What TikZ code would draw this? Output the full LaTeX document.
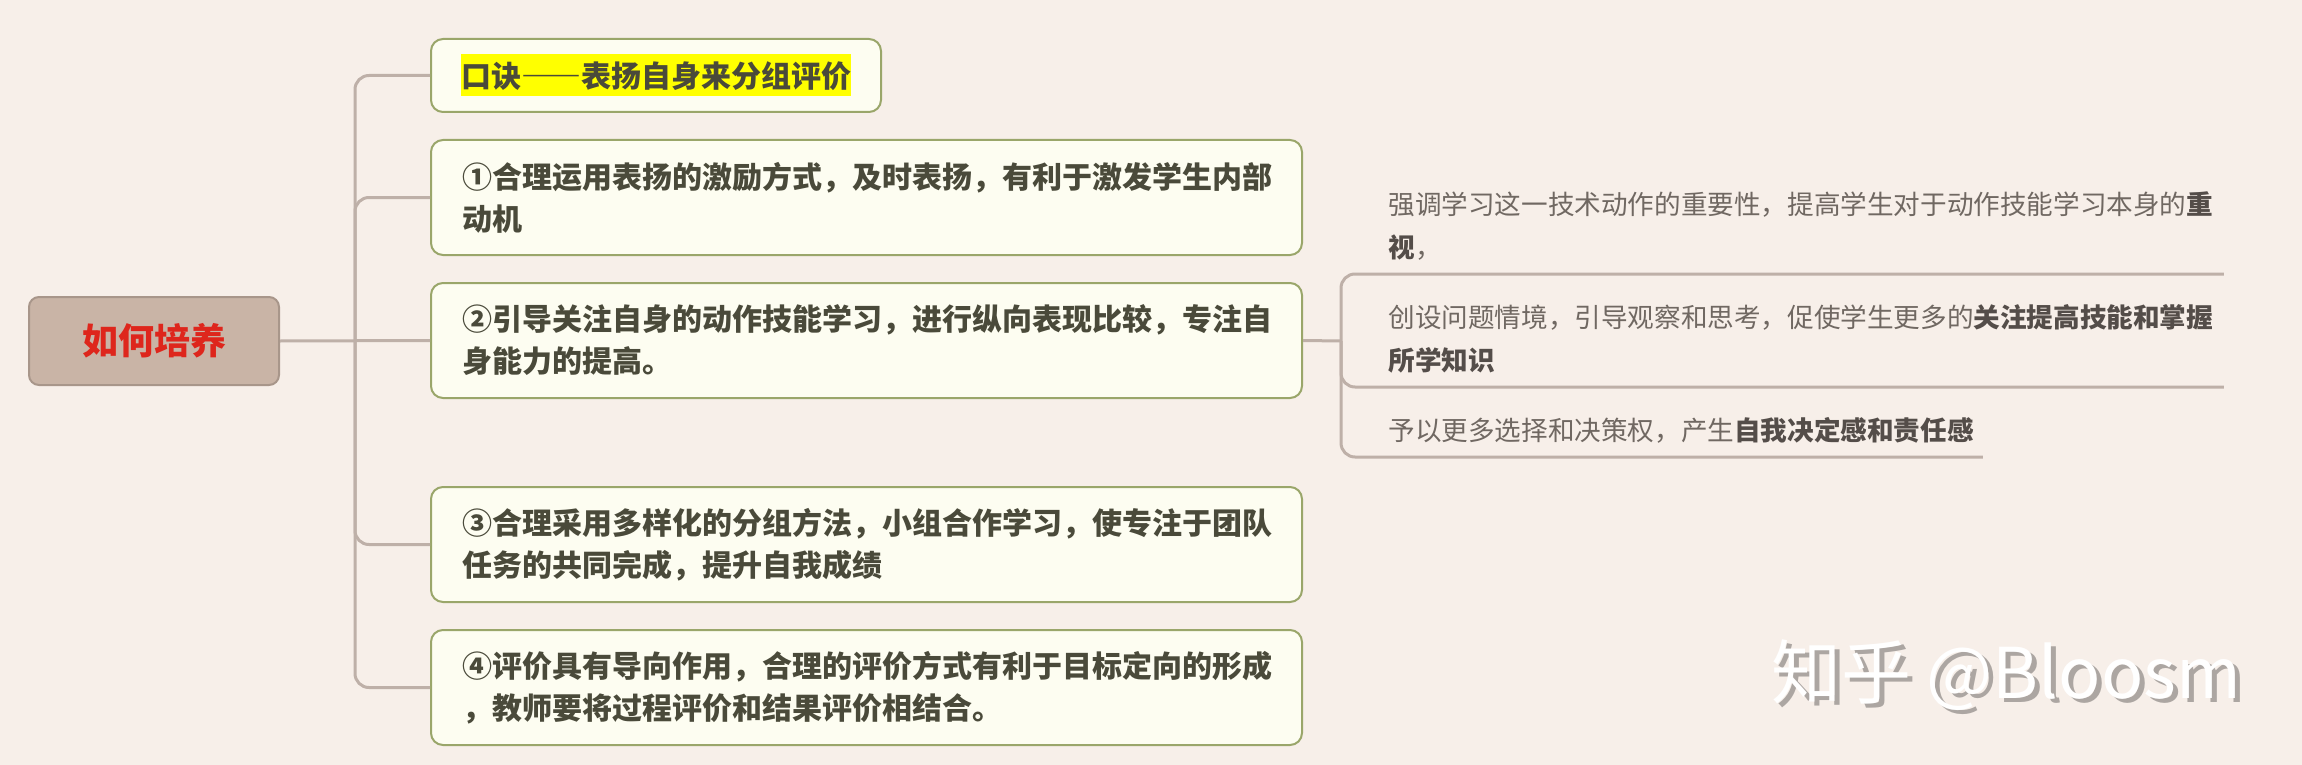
\documentclass[tikz,border=0pt]{standalone}
\usepackage{fontspec}
\setmainfont{Noto Sans CJK SC}
\definecolor{bgpaper}{RGB}{247,239,233}
\definecolor{linkgray}{RGB}{190,176,168}
\definecolor{rootfill}{RGB}{201,180,166}
\definecolor{rootedge}{RGB}{168,150,138}
\definecolor{rootred}{RGB}{222,38,28}
\definecolor{topicfill}{RGB}{253,253,241}
\definecolor{topicedge}{RGB}{154,166,106}
\definecolor{topictext}{RGB}{74,74,58}
\definecolor{subtext}{RGB}{112,104,98}
\definecolor{subdark}{RGB}{84,77,73}
\definecolor{hlyellow}{RGB}{255,255,0}
\definecolor{wmshadow}{RGB}{172,166,162}
\setlength{\fboxsep}{0pt}
\newcommand{\subbold}[1]{{\bfseries\color{subdark}#1}}

\begin{document}
\begin{tikzpicture}[x=0.5pt,y=-0.5pt,
    link/.style={draw=linkgray, line width=1.5pt, rounded corners=7pt},
    rootbox/.style={draw=rootedge, fill=rootfill, line width=1pt, rounded corners=5pt,
      minimum width=125pt, minimum height=44pt, text=rootred,
      font=\fontsize{18pt}{22pt}\selectfont\bfseries},
    topic/.style={draw=topicedge, fill=topicfill, line width=1pt, rounded corners=6pt,
      anchor=west, align=left, text=topictext, font=\fontsize{15pt}{21pt}\selectfont\bfseries},
    longtopic/.style={topic, text width=404.5pt, inner xsep=15.5pt, minimum height=57.5pt},
    subitem/.style={anchor=south west, inner xsep=0pt, inner ysep=1.5pt, align=left,
      text=subtext, font=\fontsize{13.3pt}{21.5pt}\selectfont, execute at end node=\strut}]

      \useasboundingbox (0,0) rectangle (2302,765);
      \fill[bgpaper] (0,0) rectangle (2302,765);

      % Root
      \node[rootbox] (root) at (154,341) {如何培养};
      \coordinate (trunk) at (355,341);

      % Topics
      \node[topic, minimum width=225pt, minimum height=36.5pt] (rhyme) at (430,75.5)
        {\colorbox{hlyellow}{\rule[-4.5pt]{0pt}{21pt}口诀{\addfontfeature{RawFeature=+fwid}——}表扬自身来分组评价}};
      \node[longtopic] (praise) at (430,197.5)
        {①合理运用表扬的激励方式，及时表扬，有利于激发学生内部\\动机};
      \node[longtopic] (self) at (430,340.5)
        {②引导关注自身的动作技能学习，进行纵向表现比较，专注自\\身能力的提高。};
      \node[longtopic] (group) at (430,544.5)
        {③合理采用多样化的分组方法，小组合作学习，使专注于团队\\任务的共同完成，提升自我成绩};
      \node[longtopic] (assess) at (430,687.5)
        {④评价具有导向作用，合理的评价方式有利于目标定向的形成\\，教师要将过程评价和结果评价相结合。};

      \draw[link] (root.east) -- (self.west);
      \draw[link] (trunk) |- (rhyme.west);
      \draw[link] (trunk) |- (praise.west);
      \draw[link] (trunk) |- (group.west);
      \draw[link] (trunk) |- (assess.west);

      % Sub items of topic 2
      \coordinate (subtrunk) at (1341,341);
      \node[subitem, text width=417.5pt] (stress) at (1388,274)
        {强调学习这一技术动作的重要性，提高学生对于动作技能学习本身的\subbold{重}\\\subbold{视}，};
      \node[subitem, text width=417.5pt] (problem) at (1388,387)
        {创设问题情境，引导观察和思考，促使学生更多的\subbold{关注提高技能和掌握}\\\subbold{所学知识}};
      \node[subitem, text width=297pt] (choice) at (1388,457)
        {予以更多选择和决策权，产生\subbold{自我决定感和责任感}};

      \draw[link] (self.east) -- (subtrunk);
      \draw[link] (subtrunk) |- (stress.south east);
      \draw[link] (subtrunk) |- (problem.south east);
      \draw[link] (subtrunk) |- (choice.south east);

      % Watermark
      \node[anchor=base west, text=wmshadow, font=\fontsize{35pt}{40pt}\selectfont] (wmshade) at (1769,702) {知乎 @Bloosm};
      \node[anchor=base west, text=white, font=\fontsize{35pt}{40pt}\selectfont] (wmark) at (1764,698) {知乎 @Bloosm};
\end{tikzpicture}
\end{document}
